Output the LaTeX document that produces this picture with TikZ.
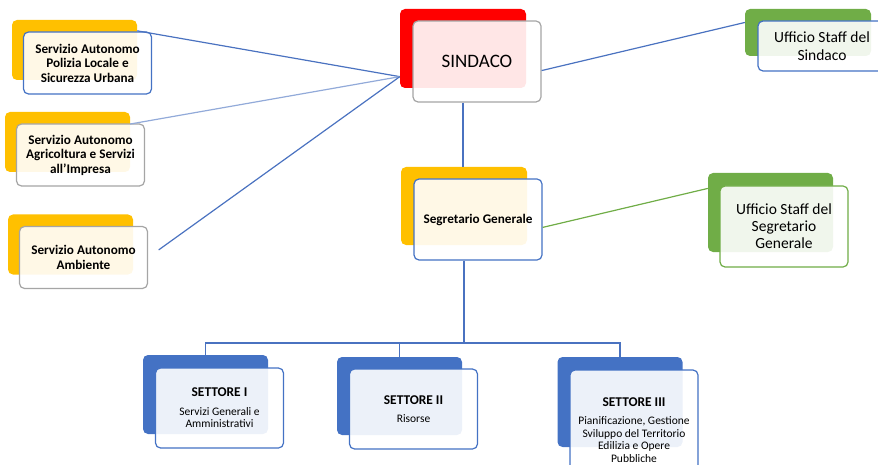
\documentclass[tikz,border=0pt]{standalone}
\usepackage{fontspec}
\setmainfont{Carlito}
\definecolor{sindacored}{HTML}{FF0000}
\definecolor{amber}{HTML}{FFC000}
\definecolor{staffgreen}{HTML}{70AD47}
\definecolor{settoreblue}{HTML}{4472C4}
\definecolor{linkblue}{HTML}{4A72C0}
\definecolor{edgegrey}{HTML}{A5A5A5}
\begin{document}
\begin{tikzpicture}
  [x=1pt, y=-1pt,
    back box/.style={
      rectangle,
      rounded corners=5pt,
      inner sep=0pt,
      minimum width=125pt,
      minimum height=60pt
    },
    front box/.style={
      rectangle,
      rounded corners=5pt,
      draw,
      line width=1.2pt,
      fill=white,
      fill opacity=0.9,
      text opacity=1,
      align=center,
      inner sep=2pt,
      minimum width=128pt,
      minimum height=62pt
    },
    link/.style={draw=linkblue, line width=1.2pt},
  ]
\useasboundingbox (0,0) rectangle (878,465);

% Draw left service boxes
\foreach \n/\x/\y/\c/\t in {polizia/74.5/50/settoreblue/{Servizio Autonomo\\Polizia Locale e\\Sicurezza Urbana},%
    agricoltura/67.5/142/edgegrey/{Servizio Autonomo\\Agricoltura e Servizi\\all'Impresa},%
    ambiente/70.5/244.5/edgegrey/{Servizio Autonomo\\Ambiente}}
{
  \node [back box, fill=amber] (\n-back) at (\x,\y) {};
  \node [front box, draw=\c, font=\fontsize{13.2}{14.5}\selectfont\bfseries] (\n) at (\x+13,\y+13) {\t};
}

% Draw SINDACO and its staff
\node [back box, fill=sindacored, minimum width=126pt, minimum height=79pt] (sindaco-back) at (463,48.5) {};
\node [front box, draw=edgegrey, minimum height=81pt, font=\fontsize{19}{22}\selectfont] (sindaco) at (477,61.5) {SINDACO};

\node [back box, fill=staffgreen, minimum width=126pt, minimum height=47pt] (staffsindaco-back) at (808,32.5) {};
\node [front box, draw=settoreblue, minimum height=50pt, font=\fontsize{15.5}{17.5}\selectfont] (staffsindaco) at (822,46) {Ufficio Staff del\\Sindaco};

% Draw Segretario Generale and its staff
\node [back box, fill=amber, minimum width=126pt, minimum height=78pt] (segretario-back) at (464,206) {};
\node [front box, draw=settoreblue, minimum height=81pt, font=\fontsize{13.2}{15}\selectfont\bfseries] (segretario) at (478,219.5) {Segretario Generale};

\node [back box, fill=staffgreen, minimum height=79pt] (staffsegretario-back) at (770.5,212.5) {};
\node [front box, draw=staffgreen, minimum height=81pt, font=\fontsize{15.5}{17}\selectfont] (staffsegretario) at (784,226.5) {Ufficio Staff del\\Segretario\\Generale};

% Draw settori
\foreach \n/\x/\y/\hb/\fy/\hf/\r/\t in {settoreI/205.5/394.5/79/408/80/I/{Servizi Generali e\\Amministrativi},%
    settoreII/399.5/396/78/409/80/II/{Risorse},%
    settoreIII/620/402/90/430/120/III/{Pianificazione, Gestione\\Sviluppo del Territorio\\Edilizia e Opere\\Pubbliche}}
{
  \node [back box, fill=settoreblue, minimum height=\hb pt] (\n-back) at (\x,\y) {};
  \node [front box, draw=settoreblue, minimum height=\hf pt, font=\fontsize{11.5}{12.4}\selectfont] (\n) at (\x+14,\fy) {{\fontsize{13.4}{15}\selectfont\bfseries SETTORE \r}\\[6pt]\t};
}

% Connect SINDACO with left services
\foreach \n/\a/\c in {polizia/17/linkblue, agricoltura/16/linkblue!60}
  \draw [link, draw=\c] (sindaco-back.204) -- (\n-back.\a);
\draw [link, shorten >=13pt] (sindaco-back.204) -- (ambiente.east);

% Connect SINDACO with staff and Segretario
\draw [link] (sindaco.-8) -- (staffsindaco-back.171);
\draw [link] (sindaco-back.south |- sindaco.south) -- (sindaco-back.south |- segretario-back.north);

% Connect Segretario with staff
\draw [link, draw=staffgreen] (segretario.-7) -- (staffsegretario-back.159);

% Connect Segretario with settori
\coordinate (bus) at (464,343);
\draw [link] (segretario-back.south |- segretario.south) -- (bus);
\foreach \n in {settoreI, settoreII, settoreIII}
  \draw [link] (\n-back.north) |- (bus);
\end{tikzpicture}
\end{document}
